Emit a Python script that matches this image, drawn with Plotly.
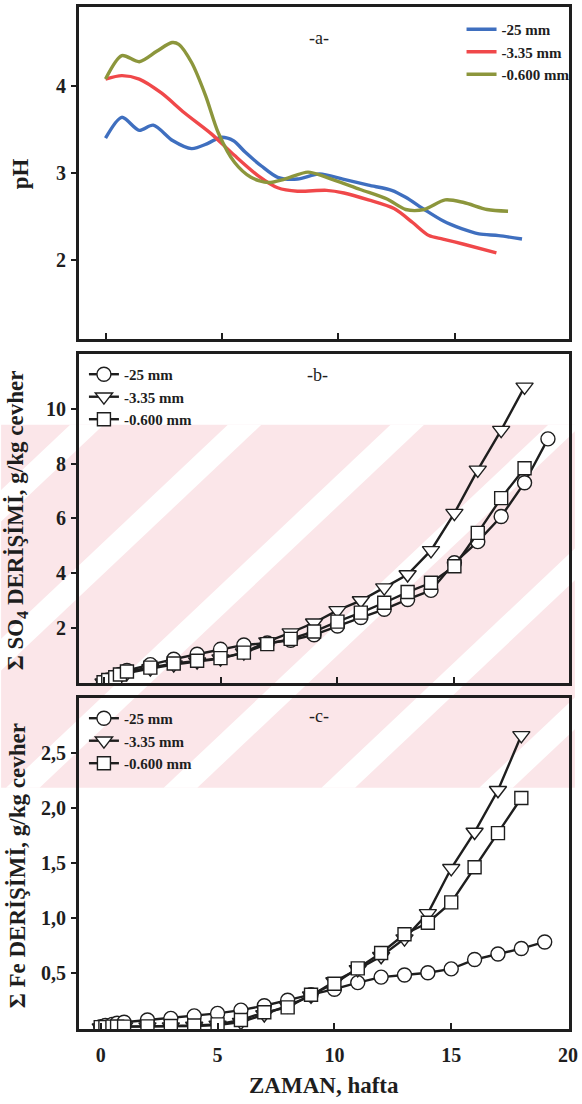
import plotly.graph_objects as go

# ---------------- data ----------------
# (a) pH versus time, three particle sizes
ph_weeks_25 = [0, 0.7, 1.45, 2.05, 2.9, 3.7, 4.4, 4.95, 5.5, 6.0, 6.7, 7.4, 8.25,
               9.2, 10.2, 11.3, 12.3, 12.9, 13.7, 14.5, 15.3, 16.05, 16.9, 17.9]
ph_25 = [3.40, 3.64, 3.49, 3.55, 3.37, 3.28, 3.34, 3.41, 3.37, 3.24, 3.08, 2.95, 2.93,
         2.99, 2.93, 2.86, 2.80, 2.72, 2.58, 2.45, 2.36, 2.30, 2.28, 2.24]

ph_weeks_335 = [0, 0.7, 1.45, 2.4, 3.4, 4.55, 5.55, 6.55, 7.4, 8.25, 9.5, 10.25,
                11.3, 12.4, 13.2, 13.9, 14.5, 15.4, 16.8]
ph_335 = [4.08, 4.12, 4.08, 3.92, 3.69, 3.45, 3.20, 2.97, 2.83, 2.79, 2.80, 2.77,
          2.69, 2.59, 2.43, 2.28, 2.24, 2.18, 2.08]

ph_weeks_06 = [0, 0.7, 1.45, 2.2, 2.86, 3.15, 3.7, 4.3, 4.85, 5.55, 6.25, 7.0, 7.7,
               8.7, 9.5, 10.95, 12.1, 12.9, 13.7, 14.6, 15.4, 16.4, 17.3]
ph_06 = [4.08, 4.35, 4.28, 4.40, 4.50, 4.48, 4.27, 3.89, 3.46, 3.12, 2.95, 2.89, 2.93,
         3.01, 2.95, 2.81, 2.70, 2.58, 2.58, 2.69, 2.66, 2.58, 2.56]

# sampling times (weeks) for the cumulative leach data
weeks = [0, 0.2, 0.5, 0.7, 1, 2, 3, 4, 5, 6, 7, 8, 9, 10, 11, 12, 13, 14, 15, 16, 17, 18]
weeks_long = weeks + [19]

# (b) cumulative SO4, g/kg ore
so4_25 = [0.02, 0.10, 0.20, 0.30, 0.45, 0.66, 0.86, 1.04, 1.22, 1.38, 1.45, 1.55, 1.75,
          2.07, 2.38, 2.68, 3.04, 3.37, 4.38, 5.15, 6.07, 7.30, 8.90]
so4_335 = [0.00, 0.05, 0.15, 0.25, 0.35, 0.52, 0.66, 0.77, 0.88, 1.10, 1.50, 1.83, 2.19,
           2.64, 3.00, 3.47, 3.95, 4.83, 6.19, 7.77, 9.22, 10.80]
so4_06 = [0.02, 0.10, 0.20, 0.30, 0.41, 0.55, 0.70, 0.80, 0.90, 1.10, 1.41, 1.60, 1.87,
          2.23, 2.56, 2.92, 3.31, 3.65, 4.25, 5.47, 6.74, 7.83]

# (c) cumulative Fe, g/kg ore
fe_25 = [0.01, 0.02, 0.03, 0.04, 0.05, 0.07, 0.085, 0.107, 0.13, 0.16, 0.20, 0.25, 0.30,
         0.35, 0.41, 0.46, 0.48, 0.50, 0.535, 0.62, 0.67, 0.72, 0.78]
fe_335 = [0.0, 0.0, 0.005, 0.005, 0.01, 0.01, 0.01, 0.015, 0.025, 0.05, 0.12, 0.20, 0.29,
          0.42, 0.53, 0.65, 0.81, 1.04, 1.45, 1.78, 2.16, 2.66]
fe_06 = [0.005, 0.005, 0.01, 0.01, 0.01, 0.012, 0.015, 0.02, 0.03, 0.07, 0.14, 0.185, 0.30,
         0.40, 0.54, 0.68, 0.85, 0.955, 1.14, 1.46, 1.77, 2.09]

series_names = ["-25 mm", "-3.35 mm", "-0.600 mm"]
ph_colors = ["#3f6fbf", "#f0484a", "#8c963c"]

ph_ticks = [2, 3, 4]
so4_ticks = [2, 4, 6, 8, 10]
fe_ticks = [0.5, 1.0, 1.5, 2.0, 2.5]
fe_ticktext = ["0,5", "1,0", "1,5", "2,0", "2,5"]
week_ticks = [0, 5, 10, 15, 20]

# ---------------- geometry ----------------
W, H = 582, 1104
ML, MR, MT, MB = 79, 6, 4, 75
PW, PH = W - ML - MR, H - MT - MB


def pxx(px):
    return (px - ML) / PW


def pxy(py):
    return (H - MB - py) / PH


SERIF = "Liberation Serif"
INK = "#1e1e1e"

fig = go.Figure()

# ---- panel a: pH curves ----
for nm, xs, ys, col in zip(series_names, [ph_weeks_25, ph_weeks_335, ph_weeks_06],
                           [ph_25, ph_335, ph_06], ph_colors):
    fig.add_trace(go.Scatter(
        x=xs, y=ys, mode="lines", name=nm, xaxis="x", yaxis="y", legend="legend",
        line=dict(color=col, width=3.4, shape="spline", smoothing=0.8)))

# ---- panels b and c: open markers joined by black lines ----
symbols = ["circle", "triangle-down", "square"]
msizes = [14, 15, 13]
for xa, ya, lg, data in [
        ("x2", "y2", "legend2", [(weeks_long, so4_25), (weeks, so4_335), (weeks, so4_06)]),
        ("x3", "y3", "legend3", [(weeks_long, fe_25), (weeks, fe_335), (weeks, fe_06)])]:
    for nm, sym, ms, (xs, ys) in zip(series_names, symbols, msizes, data):
        fig.add_trace(go.Scatter(
            x=xs, y=ys, mode="lines+markers", name=nm, xaxis=xa, yaxis=ya, legend=lg,
            line=dict(color=INK, width=2.4),
            marker=dict(symbol=sym, size=ms, color="white",
                        line=dict(color=INK, width=1.4))))

# ---------------- axes ----------------
tick_font = dict(family=SERIF, size=20, color=INK, weight="bold")
base_x = dict(showline=True, linewidth=2.8, linecolor=INK, mirror=True,
              ticks="inside", ticklen=6, tickwidth=1.6, tickcolor=INK,
              showgrid=False, zeroline=False, tickvals=week_ticks,
              tickfont=tick_font, ticklabeloverflow="allow")
base_y = dict(showline=True, linewidth=2.8, linecolor=INK, mirror=True,
              ticks="outside", ticklen=5, tickwidth=1.6, tickcolor=INK,
              showgrid=False, zeroline=False, ticklabelstandoff=1,
              tickfont=tick_font)

fig.update_layout(
    xaxis=dict(base_x, domain=[0, 1], anchor="y", range=[-1.14, 19.92], showticklabels=False),
    xaxis2=dict(base_x, domain=[0, 1], anchor="y2", range=[-1.05, 19.9], showticklabels=False),
    xaxis3=dict(base_x, domain=[0, 1], anchor="y3", range=[-0.93, 20.04], ticklabelstandoff=6),
    yaxis=dict(base_y, domain=[pxy(337), 1], anchor="x", range=[1.09, 4.909], tickvals=ph_ticks),
    yaxis2=dict(base_y, domain=[pxy(682), pxy(352)], anchor="x2", range=[-0.01, 12.0],
                tickvals=so4_ticks),
    yaxis3=dict(base_y, domain=[0, pxy(697)], anchor="x3", range=[-0.012, 3.0],
                tickvals=fe_ticks, ticktext=fe_ticktext),
)

# ---------------- legends ----------------
leg_font = dict(family=SERIF, size=15, color=INK, weight="bold")
fig.update_layout(
    legend=dict(x=pxx(467), y=pxy(10), xanchor="left", yanchor="top", font=leg_font,
                bgcolor="rgba(0,0,0,0)", tracegroupgap=0),
    legend2=dict(x=pxx(84), y=pxy(356), xanchor="left", yanchor="top", font=leg_font,
                 bgcolor="rgba(0,0,0,0)", tracegroupgap=0),
    legend3=dict(x=pxx(84), y=pxy(701), xanchor="left", yanchor="top", font=leg_font,
                 bgcolor="rgba(0,0,0,0)", tracegroupgap=0),
)

# ---------------- text ----------------
annos = [
    dict(text="-a-", x=pxx(322), y=pxy(35), font=dict(family=SERIF, size=18, color=INK)),
    dict(text="-b-", x=pxx(321), y=pxy(373), font=dict(family=SERIF, size=18, color=INK)),
    dict(text="-c-", x=pxx(322), y=pxy(715), font=dict(family=SERIF, size=18, color=INK)),
    dict(text="pH", x=pxx(20), y=pxy(171), textangle=-90,
         font=dict(family=SERIF, size=23, color=INK, weight="bold")),
    dict(text="Σ SO<sub>4</sub> DERİŞİMİ, g/kg cevher", x=pxx(17), y=pxy(519), textangle=-90,
         font=dict(family=SERIF, size=23, color=INK, weight="bold")),
    dict(text="Σ Fe DERİŞİMİ, g/kg cevher", x=pxx(17), y=pxy(865), textangle=-90,
         font=dict(family=SERIF, size=23, color=INK, weight="bold")),
    dict(text="ZAMAN, hafta", x=pxx(327), y=pxy(1086),
         font=dict(family=SERIF, size=23, color=INK, weight="bold")),
]
for a in annos:
    fig.add_annotation(xref="paper", yref="paper", showarrow=False,
                       xanchor="center", yanchor="middle", **a)

# ---------------- faint diagonal background band ----------------
pink = "#fbe6e9"
shapes = [dict(type="rect", xref="paper", yref="paper", layer="below",
               x0=pxx(0), x1=pxx(W), y0=pxy(787), y1=pxy(423),
               fillcolor=pink, line=dict(width=0))]
for top_x in [-90, 70, 230, 395, 555, 715, 875]:
    bx = top_x - 390
    path = (f"M {pxx(top_x)} {pxy(423)} L {pxx(top_x + 34)} {pxy(423)} "
            f"L {pxx(bx + 34)} {pxy(787)} L {pxx(bx)} {pxy(787)} Z")
    shapes.append(dict(type="path", xref="paper", yref="paper", layer="below",
                       path=path, fillcolor="white", line=dict(width=0)))

fig.update_layout(
    shapes=shapes,
    width=W, height=H,
    margin=dict(l=ML, r=MR, t=MT, b=MB),
    paper_bgcolor="white", plot_bgcolor="rgba(0,0,0,0)",
    showlegend=True,
)

fig.write_html("out.html")
